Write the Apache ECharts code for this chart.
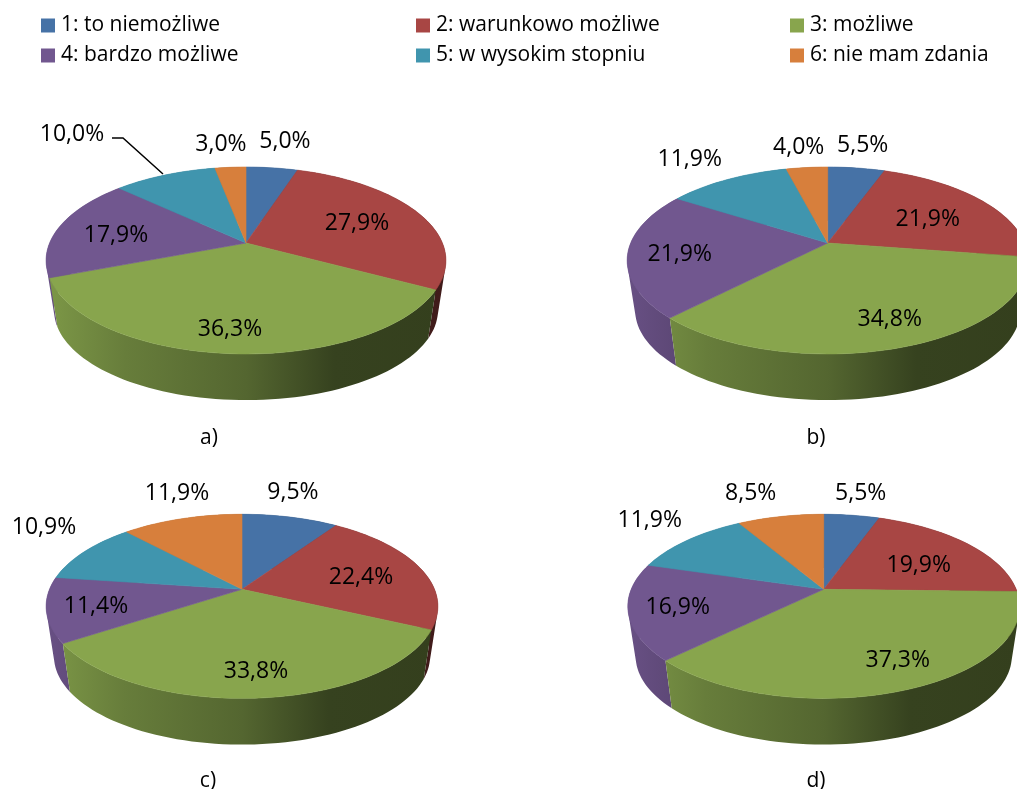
<!DOCTYPE html>
<html>
<head>
<meta charset="utf-8">
<style>
  html, body { margin: 0; padding: 0; background: #fff; }
  #chart { width: 1017px; height: 789px; }
</style>
<script src="https://cdn.jsdelivr.net/npm/echarts@6/dist/echarts.min.js"></script>
</head>
<body>
<div id="chart"></div>
<script>
// data
const categories = ['1: to niemożliwe', '2: warunkowo możliwe', '3: możliwe', '4: bardzo możliwe', '5: w wysokim stopniu', '6: nie mam zdania'];
const captions = ['a)', 'b)', 'c)', 'd)'];
const valuesA = [5.0, 27.9, 36.3, 17.9, 10.0, 3.0];
const valuesB = [5.5, 21.9, 34.8, 21.9, 11.9, 4.0];
const valuesC = [9.5, 22.4, 33.8, 11.4, 10.9, 11.9];
const valuesD = [5.5, 19.9, 37.3, 16.9, 11.9, 8.5];
const pieValues = [valuesA, valuesB, valuesC, valuesD];

const colors = ['#4672A6', '#A84644', '#88A54D', '#71578F', '#4095AE', '#D77F3C'];

// layout: apex of each pie and perspective of the top face
const pieFrames = [
  { cx: 246, cy: 243, c: 196.4, b: 90.2, k: 0.187 },
  { cx: 827.7, cy: 243, c: 197, b: 90.2, k: 0.187 },
  { cx: 242, cy: 589.3, c: 192.5, b: 88.9, k: 0.185 },
  { cx: 823.7, cy: 589.3, c: 192.5, b: 88.9, k: 0.185 }
];
const captionPos = [[209, 438], [816, 438], [208, 781], [816, 781]];
const baseScale = 0.96;
const baseDrop = 50.6;

// labels were moved by hand in the original, offsets are from the pie apex
const labelOffsets = [
  [[39, -102], [111, -20], [-16, 86], [-130, -8], [-174, -109], [-25, -99]],
  [[35, -98], [100, -24], [62, 76], [-148, 11], [-138, -84], [-29, -96]],
  [[51, -97], [119, -12], [14, 82], [-146, 17], [-198, -62], [-65, -96]],
  [[37, -96], [95, -24], [74, 71], [-146, 18], [-174, -69], [-73, -96]]
];
// leader line of the 10,0% label in pie a)
const leaderPie = 0;
const leaderCat = 4;
const leaderOffsets = [[-134, -105], [-123, -105], [-83, -69]];

const legendLeft = [41, 416, 790];
const legendTop = [15, 45];
const FONT = '"Open Sans", sans-serif';

function shade(hex, f) {
  const n = parseInt(hex.slice(1), 16);
  const r = Math.round(((n >> 16) & 255) * f);
  const g = Math.round(((n >> 8) & 255) * f);
  const b = Math.round((n & 255) * f);
  return 'rgb(' + r + ',' + g + ',' + b + ')';
}

// circle in the pie plane -> screen, a simple perspective projection
function project(frame, theta, scale, drop) {
  const X = Math.sin(theta);
  const Y = -Math.cos(theta);
  const w = 1 - frame.k * Y;
  return [
    frame.cx + scale * frame.c * X / w,
    frame.cy + drop + scale * frame.b * Y / w
  ];
}

function arcPoints(frame, a0, a1, scale, drop) {
  const steps = Math.max(2, Math.ceil((a1 - a0) / (Math.PI / 90)));
  const pts = [];
  for (let i = 0; i <= steps; i++) {
    pts.push(project(frame, a0 + (a1 - a0) * i / steps, scale, drop));
  }
  return pts;
}

// the wall as one path of small strips, all wound the same way, so the fill has no seams
function wallPath(topArc, baseArc) {
  let d = '';
  for (let i = 0; i < topArc.length - 1; i++) {
    let quad = [topArc[i], topArc[i + 1], baseArc[i + 1], baseArc[i]];
    let area = 0;
    for (let j = 0; j < 4; j++) {
      const p = quad[j];
      const q = quad[(j + 1) % 4];
      area += p[0] * q[1] - q[0] * p[1];
    }
    if (area < 0) quad = quad.reverse();
    d += 'M' + quad.map(function (p) { return p[0].toFixed(2) + ' ' + p[1].toFixed(2); }).join('L') + 'Z';
  }
  return d;
}

function sideFill(frame, color) {
  const span = frame.c * 1.02;
  return new echarts.graphic.LinearGradient(frame.cx - span, 0, frame.cx + span, 0, [
    { offset: 0, color: shade(color, 0.92) },
    { offset: 0.2, color: shade(color, 0.76) },
    { offset: 0.5, color: shade(color, 0.62) },
    { offset: 0.72, color: shade(color, 0.4) },
    { offset: 1, color: shade(color, 0.38) }
  ], true);
}

function formatValue(v) {
  return v.toFixed(1).replace('.', ',') + '%';
}

// one series per category, one data item per pie
function renderSlice(catIndex) {
  return function (params, api) {
    const pieIndex = params.dataIndex;
    const frame = pieFrames[pieIndex];
    const values = pieValues[pieIndex];
    const total = values.reduce(function (s, v) { return s + v; }, 0);
    let before = 0;
    for (let i = 0; i < catIndex; i++) before += values[i];
    const value = api.value(0);
    const a0 = before / total * Math.PI * 2;
    const a1 = (before + value) / total * Math.PI * 2;
    const color = colors[catIndex];

    const topArc = arcPoints(frame, a0, a1, 1, 0);
    const baseArc = arcPoints(frame, a0, a1, baseScale, baseDrop);
    const offset = labelOffsets[pieIndex][catIndex];

    // slices nearer the viewer are painted over the ones behind
    const wallZ = 1 + (1 - Math.cos((a0 + a1) / 2)) / 4;
    const children = [
      {
        type: 'path',
        z2: wallZ,
        silent: true,
        shape: { pathData: wallPath(topArc, baseArc) },
        style: { fill: sideFill(frame, color) }
      },
      {
        type: 'polygon',
        z2: 2,
        silent: true,
        shape: { points: [[frame.cx, frame.cy]].concat(topArc) },
        style: { fill: color, stroke: color, lineWidth: 0.6 }
      },
      {
        type: 'text',
        z2: 4,
        silent: true,
        style: {
          text: formatValue(value),
          x: frame.cx + offset[0],
          y: frame.cy + offset[1],
          fill: '#000',
          font: '23px ' + FONT,
          textAlign: 'center',
          textVerticalAlign: 'middle'
        }
      }
    ];

    if (pieIndex === leaderPie && catIndex === leaderCat) {
      children.push({
        type: 'polyline',
        z2: 3,
        silent: true,
        shape: {
          points: leaderOffsets.map(function (p) {
            return [frame.cx + p[0], frame.cy + p[1]];
          })
        },
        style: { stroke: '#000', lineWidth: 1.5, fill: null }
      });
    }
    return { type: 'group', children: children };
  };
}

const chart = echarts.init(document.getElementById('chart'));

const option = {
  backgroundColor: '#fff',
  animation: false,
  legend: categories.map(function (name, i) {
    return {
      data: [name],
      left: legendLeft[i % 3],
      top: legendTop[Math.floor(i / 3)],
      icon: 'rect',
      itemWidth: 14,
      itemHeight: 14,
      itemGap: 0,
      padding: 0,
      selectedMode: false,
      textStyle: { color: '#000', fontFamily: FONT, fontSize: 21, lineHeight: 14, padding: [0, 0, 0, 1] }
    };
  }),
  title: captions.map(function (text, i) {
    return {
      text: text,
      left: captionPos[i][0],
      top: captionPos[i][1] - 10,
      textAlign: 'center',
      padding: 0,
      textStyle: { color: '#000', fontFamily: FONT, fontSize: 21, fontWeight: 'normal', lineHeight: 20 }
    };
  }),
  series: categories.map(function (name, i) {
    return {
      type: 'custom',
      name: name,
      coordinateSystem: 'none',
      itemStyle: { color: colors[i] },
      renderItem: renderSlice(i),
      data: pieValues.map(function (values) { return [values[i]]; })
    };
  })
};

chart.setOption(option);
</script>
</body>
</html>
